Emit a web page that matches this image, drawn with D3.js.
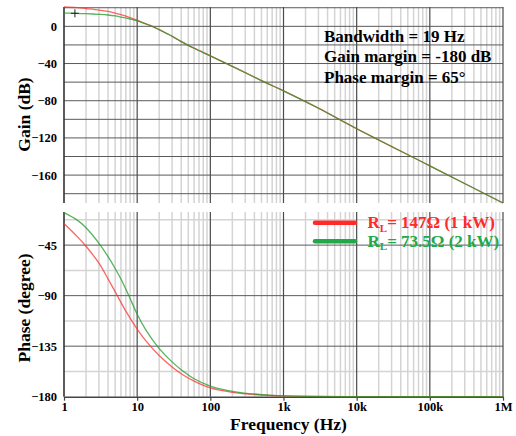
<!DOCTYPE html>
<html>
<head>
<meta charset="utf-8">
<script src="https://cdn.jsdelivr.net/npm/d3@7"></script>
<style>
  html, body { margin: 0; padding: 0; background: #fff; }
  svg { display: block; font-family: "Liberation Serif", "Times New Roman", serif; font-weight: bold; }
</style>
</head>
<body>
<svg id="chart" width="516" height="436"></svg>
<script>
// ---------- data ----------
const gainFreq  = [1, 1.5, 2, 3, 4, 5, 6, 8, 10, 13, 16, 20, 30, 40, 60, 100, 200, 500, 1000, 3000, 10000, 100000, 1000000];
const gainRed   = [20.8, 20.2, 19.1, 17.5, 16.0, 14.3, 12.6, 9.4, 6.6, 3.0, 0.3, -3.6, -10.6, -16.4, -23.5, -31.7, -43, -58.3, -69.4, -88, -110, -150, -190];
const gainGreen = [14.3, 14.0, 13.6, 12.9, 12.2, 11.2, 10.0, 7.9, 5.9, 2.6, 0.0, -3.7, -10.7, -16.5, -23.6, -31.8, -43.1, -58.4, -69.5, -88.1, -110.1, -150.1, -190];

const phaseFreqRed = [1, 1.5, 2, 3, 4, 5.3, 7, 10, 13, 20, 30, 40, 60, 100, 200, 500, 1000, 10000, 1000000];
const phaseRed     = [-25.7, -37, -46, -61, -75, -89.5, -103.8, -119.8, -129.8, -143.3, -153.5, -159.5, -166.2, -172.2, -176.1, -178.5, -179.3, -179.9, -180];
const phaseFreqGreen = [1, 1.5, 2, 3.1, 4, 5, 6, 7.6, 10, 13, 19.4, 30, 40, 60, 100, 200, 500, 1000, 10000, 1000000];
const phaseGreen     = [-16, -22.5, -29.5, -44.5, -55.3, -65.8, -75.2, -89.2, -106.5, -120, -136, -149, -156, -164, -170.5, -175.2, -178.2, -179.2, -179.9, -180];

const xTickValues = [1, 10, 100, 1000, 10000, 100000, 1000000];
const xTickLabels = ["1", "10", "100", "1k", "10k", "100k", "1M"];
const gainTicks = [0, -40, -80, -120, -160];
const gainGrid = [20, 0, -20, -40, -60, -80, -100, -120, -140, -160, -180];
const phaseTicks = [-45, -90, -135, -180];
const phaseMinorGrid = [-22.5, -67.5, -112.5, -157.5];
const seriesNames = [
  {sym: "R", sub: "L", rest: "= 147\u03A9 (1 kW)", color: "#ff2a2a"},
  {sym: "R", sub: "L", rest: "= 73.5\u03A9 (2 kW)", color: "#22a848"}
];
const annotations = ["Bandwidth = 19 Hz", "Gain margin = -180 dB", "Phase margin = 65\u00B0"];
const cursor = {freq: 1.41, gain: 14};

// ---------- scales ----------
const svg = d3.select("#chart");
const x = d3.scaleLog().domain([1, 1e6]).range([64, 503]);
const yG = d3.scaleLinear().domain([-190, 20.8]).range([203, 7]);
const yP = d3.scaleLinear().domain([-180, -15.5]).range([396.7, 212]);

const minorX = x.ticks().filter(v => Math.abs(Math.log10(v) - Math.round(Math.log10(v))) > 1e-9);

function panel(top, bottom) {
  const g = svg.append("g");
  g.selectAll(".vminor").data(minorX).enter().append("line")
    .attr("x1", d => x(d)).attr("x2", d => x(d))
    .attr("y1", top).attr("y2", bottom)
    .attr("stroke", "#d4d4d4").attr("stroke-width", 1.5);
  return g;
}
function styleText(sel) {
  sel.selectAll("text").attr("font-size", 12.5).attr("font-weight", "bold")
    .attr("font-family", "Liberation Serif").attr("fill", "#000");
}

// ---------- gain panel ----------
const gG = panel(7, 203);
gG.selectAll(".hgrid").data(gainGrid).enter().append("line")
  .attr("x1", 64).attr("x2", 503)
  .attr("y1", d => yG(d)).attr("y2", d => yG(d))
  .attr("stroke", "#5a5a5a").attr("stroke-width", 1);
gG.selectAll(".vmajor").data(xTickValues.slice(1)).enter().append("line")
  .attr("x1", d => x(d)).attr("x2", d => x(d))
  .attr("y1", 7).attr("y2", 203)
  .attr("stroke", "#4a4a4a").attr("stroke-width", 1.2);
gG.append("line").attr("x1", 64).attr("x2", 64).attr("y1", 7).attr("y2", 203)
  .attr("stroke", "#333").attr("stroke-width", 1.6);

const yAxisG = d3.axisLeft(yG).tickValues(gainTicks).tickSize(0).tickPadding(7);
svg.append("g").attr("transform", "translate(64,0)").call(yAxisG)
  .call(a => a.select(".domain").remove()).call(styleText);

// ---------- phase panel ----------
const gP = panel(212, 396.7);
gP.selectAll(".hminor").data(phaseMinorGrid).enter().append("line")
  .attr("x1", 64).attr("x2", 503)
  .attr("y1", d => yP(d)).attr("y2", d => yP(d))
  .attr("stroke", "#d4d4d4").attr("stroke-width", 1.5);
gP.selectAll(".hgrid").data(phaseTicks.slice(0, 3)).enter().append("line")
  .attr("x1", 64).attr("x2", 503)
  .attr("y1", d => yP(d)).attr("y2", d => yP(d))
  .attr("stroke", "#5a5a5a").attr("stroke-width", 1);
gP.selectAll(".vmajor").data(xTickValues.slice(1)).enter().append("line")
  .attr("x1", d => x(d)).attr("x2", d => x(d))
  .attr("y1", 212).attr("y2", 396.7)
  .attr("stroke", "#4a4a4a").attr("stroke-width", 1.2);
gP.append("line").attr("x1", 64).attr("x2", 64).attr("y1", 212).attr("y2", 396.7)
  .attr("stroke", "#333").attr("stroke-width", 1.6);

const yAxisP = d3.axisLeft(yP).tickValues(phaseTicks).tickSize(0).tickPadding(7);
svg.append("g").attr("transform", "translate(64,0)").call(yAxisP)
  .call(a => a.select(".domain").remove()).call(styleText);

const xAxis = d3.axisBottom(x).tickValues(xTickValues)
  .tickFormat((d, i) => xTickLabels[i]).tickSize(4).tickSizeOuter(0).tickPadding(1);
const xa = svg.append("g").attr("transform", "translate(0,396.7)").call(xAxis).call(styleText);
xa.select(".domain").attr("stroke", "#444").attr("stroke-width", 1.6);
xa.selectAll(".tick line").attr("stroke", "#444").attr("stroke-width", 1.2);

// ---------- curves ----------
const pts = (fs, ys) => fs.map((f, i) => [f, ys[i]]);
const curve = d3.curveCatmullRom.alpha(0.5);
const lineG = d3.line().x(d => x(d[0])).y(d => yG(d[1])).curve(curve);
const lineP = d3.line().x(d => x(d[0])).y(d => yP(d[1])).curve(curve);

const RED = "#ff3030", GREEN = "#1f9a2a";
function draw(d, color) {
  svg.append("path").attr("d", d).attr("fill", "none")
    .attr("stroke", color).attr("stroke-width", 1.3).attr("stroke-opacity", 0.75);
}
draw(lineG(pts(gainFreq, gainRed)), RED);
draw(lineG(pts(gainFreq, gainGreen)), GREEN);
draw(lineP(pts(phaseFreqRed, phaseRed)), RED);
draw(lineP(pts(phaseFreqGreen, phaseGreen)), GREEN);

// cursor marker
const cx = x(cursor.freq), cy = yG(cursor.gain);
svg.append("path").attr("d", `M${cx - 4},${cy}H${cx + 4}M${cx},${cy - 4}V${cy + 4}`)
  .attr("stroke", "#222").attr("stroke-width", 1);

// ---------- labels ----------
svg.append("text").attr("transform", "translate(29.5,114.5) rotate(-90)")
  .attr("text-anchor", "middle").attr("font-size", 17.5).text("Gain (dB)");
svg.append("text").attr("transform", "translate(30,308) rotate(-90)")
  .attr("text-anchor", "middle").attr("font-size", 17.5).text("Phase (degree)");
svg.append("text").attr("x", 288.5).attr("y", 429.5)
  .attr("text-anchor", "middle").attr("font-size", 17.5).text("Frequency (Hz)");

svg.selectAll(".ann").data(annotations).enter().append("text")
  .attr("x", 324).attr("y", (d, i) => 41.5 + i * 20.5)
  .attr("font-size", 17).attr("fill", "#000").text(d => d);

// ---------- legend ----------
const leg = svg.selectAll(".leg").data(seriesNames).enter().append("g")
  .attr("transform", (d, i) => `translate(0,${222.7 + i * 18.5})`);
leg.append("line").attr("x1", 315).attr("x2", 355).attr("y1", 0).attr("y2", 0)
  .attr("stroke", d => d.color).attr("stroke-width", 4.5).attr("stroke-linecap", "round");
const lt = leg.append("text").attr("x", 367.5).attr("y", 5.5).attr("font-size", 17)
  .attr("fill", d => d.color);
lt.append("tspan").text(d => d.sym);
lt.append("tspan").attr("font-size", 11).attr("dy", 3.5).text(d => d.sub);
lt.append("tspan").attr("dy", -3.5).text(d => d.rest);
</script>
</body>
</html>
